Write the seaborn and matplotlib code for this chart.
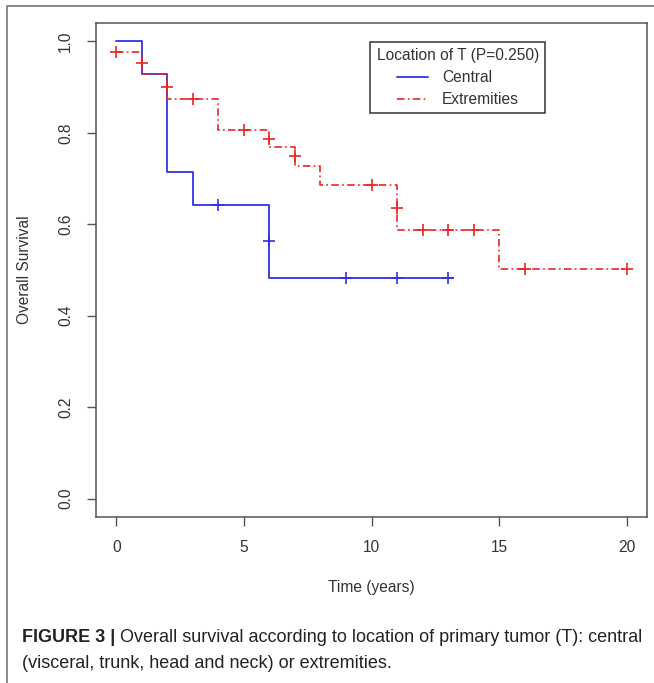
import numpy as np
import pandas as pd
import matplotlib
matplotlib.use("Agg")
import matplotlib.pyplot as plt
import seaborn as sns
from matplotlib.lines import Line2D

# ---------------------- DATA ----------------------
# Kaplan-Meier steps; repeated times are two drops at the same time
central_time = [0, 1, 2, 3, 6, 6, 13.2]
central_surv = [1.0, 0.929, 0.714, 0.643, 0.563, 0.482, 0.482]
central_cens_time = [4, 6, 9, 11, 13]
central_cens_surv = [0.643, 0.563, 0.482, 0.482, 0.482]

extr_time = [0, 1, 1, 2, 2, 4, 6, 6, 7, 7, 8, 11, 11, 15, 20]
extr_surv = [0.977, 0.953, 0.929, 0.899, 0.873, 0.805, 0.787, 0.769,
             0.749, 0.727, 0.686, 0.636, 0.588, 0.503, 0.503]
extr_cens_time = [0, 1, 2, 3, 5, 6, 7, 10, 11, 12, 13, 14, 16, 20]
extr_cens_surv = [0.977, 0.953, 0.899, 0.873, 0.805, 0.787, 0.749,
                  0.686, 0.636, 0.588, 0.588, 0.588, 0.503, 0.503]

x_ticks = [0, 5, 10, 15, 20]
y_ticks = [0.0, 0.2, 0.4, 0.6, 0.8, 1.0]
y_tick_labels = ["0.0", "0.2", "0.4", "0.6", "0.8", "1.0"]

legend_title = "Location of T (P=0.250)"
group_names = ["Central", "Extremities"]
caption_bold = "FIGURE 3 |"
caption_line1 = " Overall survival according to location of primary tumor (T): central"
caption_line2 = "(visceral, trunk, head and neck) or extremities."

# ---------------------- STYLE ----------------------
sns.set_style("white")
plt.rcParams["font.family"] = ["Liberation Sans", "DejaVu Sans"]

blue = "#3030e8"
red = "#ec2424"
axis_grey = "#555555"
text_grey = "#333333"
fs = 11.2

W, H = 654, 683
fig = plt.figure(figsize=(W / 100, H / 100), dpi=100)
ax = fig.add_axes([96 / W, 166 / H, 551 / W, 494 / H])

# ---------------------- CURVES ----------------------
central_df = pd.DataFrame({"time": central_time, "surv": central_surv})
extr_df = pd.DataFrame({"time": extr_time, "surv": extr_surv})

sns.lineplot(data=central_df, x="time", y="surv", ax=ax, estimator=None, sort=False,
             drawstyle="steps-post", color=blue, linewidth=1.3, label=group_names[0])
sns.lineplot(data=extr_df, x="time", y="surv", ax=ax, estimator=None, sort=False,
             drawstyle="steps-post", color=red, linewidth=1.2,
             linestyle=(0, (4.5, 2, 1, 2)), label=group_names[1])

# censor marks
sns.scatterplot(x=central_cens_time, y=central_cens_surv, ax=ax, marker="+",
                s=70, color=blue, linewidth=1.2, legend=False, zorder=3)
sns.scatterplot(x=extr_cens_time, y=extr_cens_surv, ax=ax, marker="+",
                s=70, color=red, linewidth=1.2, legend=False, zorder=3)

# ---------------------- AXES ----------------------
ax.set_xlim(-0.8, 20.8)
ax.set_ylim(-0.04, 1.04)
ax.set_xticks(x_ticks)
ax.set_yticks(y_ticks)
ax.set_yticklabels(y_tick_labels, rotation=90, va="center")
ax.tick_params(axis="both", direction="out", length=6.5, width=1, color=axis_grey,
               labelsize=fs, labelcolor=text_grey, pad=10,
               bottom=True, left=True)
for sp in ax.spines.values():
    sp.set_color(axis_grey)
    sp.set_linewidth(1.1)

ax.set_xlabel("Time (years)", fontsize=fs, color=text_grey, labelpad=18)
ax.set_ylabel("Overall Survival", fontsize=fs, color=text_grey, labelpad=19)

leg = ax.legend(title=legend_title, loc="upper left", bbox_to_anchor=(0.498, 0.962),
                fontsize=fs, title_fontsize=fs, fancybox=False, framealpha=1,
                edgecolor="#333333", handlelength=2.0, handletextpad=0.9,
                labelspacing=0.45, borderpad=0.4, borderaxespad=0)
leg.get_frame().set_linewidth(1.1)
for t in leg.get_texts():
    t.set_color(text_grey)
leg.get_title().set_color(text_grey)

# ---------------------- FRAME & CAPTION ----------------------
fig.add_artist(Line2D([7 / W, 7 / W, 1.0], [0.0, 1 - 6 / H, 1 - 6 / H],
                      transform=fig.transFigure, color="#808080", linewidth=1.3))

cap_fs = 12.95
t1 = fig.text(22 / W, 1 - 638 / H, caption_bold, fontsize=cap_fs, fontweight="bold",
              color="#222222", va="center", ha="left")
fig.canvas.draw()
bb = t1.get_window_extent()
fig.text(bb.x1 / W, 1 - 638 / H, caption_line1, fontsize=cap_fs, color="#222222",
         va="center", ha="left")
fig.text(22 / W, 1 - 663 / H, caption_line2, fontsize=cap_fs, color="#222222",
         va="center", ha="left")

fig.savefig("out.png", dpi=100)
